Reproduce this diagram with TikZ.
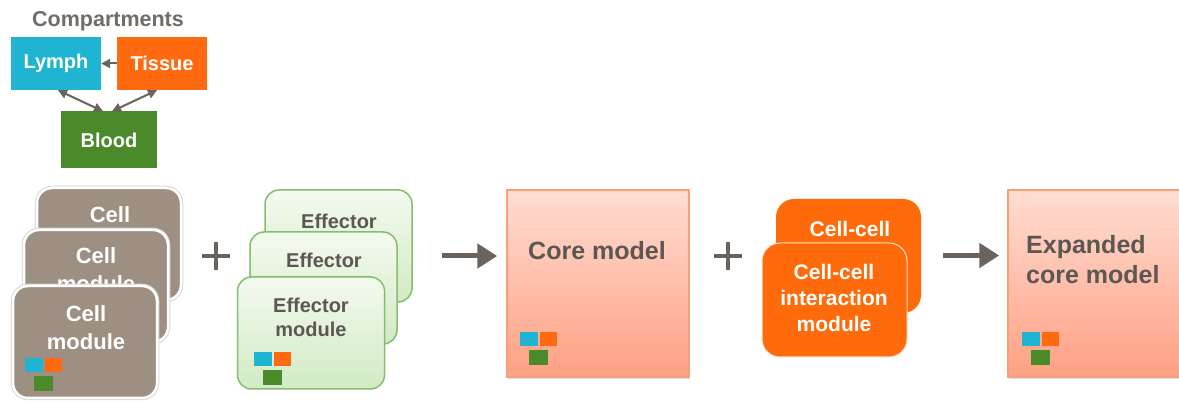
\documentclass[tikz,border=0pt]{standalone}
\usepackage{fontspec}
\setmainfont{Liberation Sans}
\usetikzlibrary{arrows.meta,shadows}

\definecolor{lymphc}{HTML}{1FB4D2}
\definecolor{tissuec}{HTML}{FF6A10}
\definecolor{bloodc}{HTML}{4B8A2B}
\definecolor{cellc}{HTML}{9D8F81}
\definecolor{inkgrey}{HTML}{5C5752}
\definecolor{arrowgrey}{HTML}{6A635E}
\definecolor{titlegrey}{HTML}{716C68}
\definecolor{effedge}{HTML}{84BE6E}
\definecolor{efftop}{HTML}{F3FAEF}
\definecolor{effbot}{HTML}{D2EAC4}
\definecolor{coretop}{HTML}{FFDDD2}
\definecolor{corebot}{HTML}{FFA083}
\definecolor{coreedge}{HTML}{F6A078}
\definecolor{ccc}{HTML}{FF6A0A}

\tikzset{
  smalltip/.tip={Triangle[length=9pt,width=9pt]},
  comp/.style={rectangle, fill=#1, text=white, inner sep=0pt,
    font=\fontsize{20}{24}\selectfont\bfseries},
  cellbox/.style={rectangle, rounded corners=15pt, fill=cellc, draw=white,
    line width=2.5pt, minimum width=144pt, minimum height=112pt,
    preaction={draw=black!15, line width=4.5pt}},
  effbox/.style={rectangle, rounded corners=14pt, top color=efftop,
    bottom color=effbot, draw=effedge, line width=1.5pt,
    minimum width=147pt, minimum height=112pt},
  corebox/.style={rectangle, top color=coretop, bottom color=corebot,
    draw=coreedge, line width=1.5pt, minimum width=182pt, minimum height=187pt,
    drop shadow={opacity=0.25, shadow xshift=1pt, shadow yshift=-2pt}},
  ccbox/.style={rectangle, rounded corners=18pt, fill=ccc,
    minimum width=145pt, minimum height=114pt},
  celltext/.style={text=white, align=center, inner sep=0pt,
    font=\fontsize{22}{28}\selectfont\bfseries},
  efftext/.style={text=inkgrey, align=center, inner sep=0pt,
    font=\fontsize{20}{24}\selectfont\bfseries},
  coretext/.style={text=inkgrey, inner sep=0pt,
    font=\fontsize{25}{30}\selectfont\bfseries},
  cctext/.style={text=white, align=center, inner sep=0pt,
    font=\fontsize{21}{26}\selectfont\bfseries},
  smallarrow/.style={draw=arrowgrey, line width=2pt},
  bigarrow/.style={draw=arrowgrey, line width=5pt,
    -{Triangle[length=20pt,width=24pt]}},
  plusline/.style={draw=arrowgrey, line width=4pt},
  minis/.pic={
    \fill[lymphc] (0,0) rectangle (18,14);
    \fill[tissuec] (20,0) rectangle (37,14);
    \fill[bloodc] (9,18) rectangle (28,33);
  }
}

\begin{document}
\begin{tikzpicture}[x=1pt, y=-1pt]
  \clip (0,0) rectangle (1179,403);
  \fill[white] (0,0) rectangle (1179,403);

  % compartments
  \node[text=titlegrey, inner sep=0pt, font=\fontsize{21.5}{25}\selectfont\bfseries]
    (ctitle) at (108,21) {Compartments};
  \node[comp=lymphc, minimum width=90pt, minimum height=53pt] (lymph) at (56,63.5) {Lymph};
  \node[comp=tissuec, minimum width=90pt, minimum height=53pt] (tissue) at (162,63.5) {Tissue};
  \node[comp=bloodc, minimum width=96pt, minimum height=57pt] (blood) at (109,140) {Blood};
  \draw[smallarrow, -{smalltip}] (tissue.west) -- (lymph.east);
  \draw[smallarrow, {smalltip}-{smalltip}]
    ([xshift=2pt]lymph.south) -- ([xshift=-6pt]blood.north);
  \draw[smallarrow, {smalltip}-{smalltip}]
    ([xshift=-5pt]tissue.south) -- ([xshift=3pt]blood.north);

  % cell modules
  \node[cellbox] (cell3) at (109,244) {};
  \node[celltext] (cell3t) at (110,215) {Cell};
  \node[cellbox] (cell2) at (96,286) {};
  \node[celltext] (cell2t) at (96,270) {Cell\\module};
  \node[cellbox] (cell1) at (85,342) {};
  \node[celltext] (cell1t) at (86,328) {Cell\\module};
  \pic at (25,358) {minis};

  % plus
  \draw[plusline] (202,256) -- (230,256) (216,242) -- (216,270);

  % effector modules
  \node[effbox] (eff3) at (338.5,246) {};
  \node[efftext] (eff3t) at (339,221) {Effector};
  \node[effbox] (eff2) at (323.5,288) {};
  \node[efftext] (eff2t) at (324,260) {Effector};
  \node[effbox] (eff1) at (311,333) {};
  \node[efftext] (eff1t) at (311,317) {Effector\\module};
  \pic at (254,352) {minis};

  % core model
  \node[corebox] (core) at (598,283.5) {};
  \node[coretext] (coret) at (597,251) {Core model};
  \pic at (520,332) {minis};
  \draw[bigarrow] ([xshift=-64pt,yshift=27.5pt]core.west) -- ([xshift=-9pt,yshift=27.5pt]core.west);

  % plus
  \draw[plusline] (714,256) -- (742,256) (728,242) -- (728,270);

  % cell-cell interaction modules
  \node[ccbox] (cc2) at (848.5,256) {};
  \node[cctext] (cc2t) at (850,229) {Cell-cell};
  \node[ccbox, draw=white!80!ccc, line width=1pt] (cc1) at (834.5,300) {};
  \node[cctext] (cc1t) at (834,298) {Cell-cell\\interaction\\module};

  % expanded core model
  \node[corebox] (exp) at (1099,283.5) {};
  \node[coretext, anchor=west, align=left] (expt) at (1026,260)
    {Expanded\\core model};
  \pic at (1022,332) {minis};
  \draw[bigarrow] ([xshift=-64pt,yshift=28pt]exp.west) -- ([xshift=-8pt,yshift=28pt]exp.west);
\end{tikzpicture}
\end{document}
